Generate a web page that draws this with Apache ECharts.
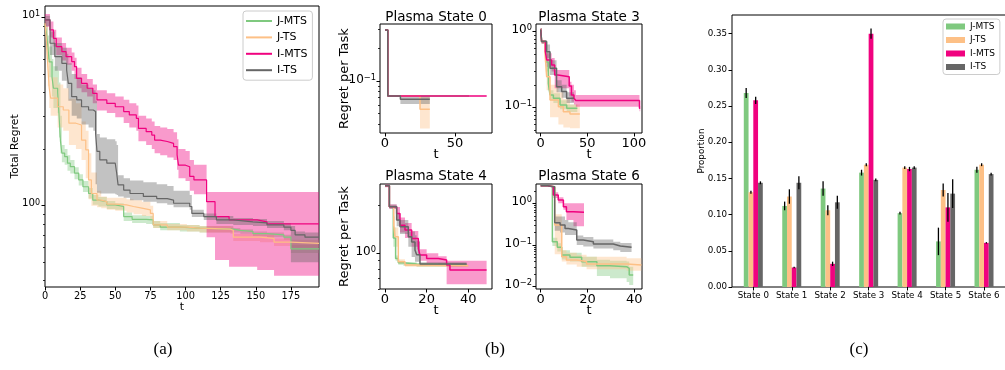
<!DOCTYPE html>
<html><head><meta charset="utf-8">
<script src="https://cdn.jsdelivr.net/npm/echarts@6.0.0/dist/echarts.min.js"></script>
<style>html,body{margin:0;padding:0;background:#fff}#c{width:1005px;height:370px}</style>
</head><body><div id="c"></div>
<script>
const FONT = 'DejaVu Sans';
const names = ['J-MTS', 'J-TS', 'I-MTS', 'I-TS'];
const colors = ['#7fc97f', '#fdc086', '#f0027f', '#666666'];

// ---- (a) Total regret, rows: [t, mean, lower, upper]; last row closes the step ----
const aJMTS = [[0,9.1,8.6,9.5],[1,8.3,7.5,9.0],[2,7.0,6.0,8.0],[3,5.8,4.8,7.0],[5,4.8,3.8,6.0],[6,4.2,3.3,5.5],[9,4.0,3.1,5.2],[10,3.0,2.3,4.5],[11,2.2,1.9,3.0],[12,1.90,1.70,2.10],[14,1.82,1.65,2.00],[16,1.68,1.53,1.85],[18,1.61,1.48,1.75],[21,1.49,1.38,1.60],[24,1.37,1.28,1.47],[27,1.26,1.18,1.35],[31,1.16,1.09,1.24],[34,1.07,1.01,1.14],[38,1.05,0.99,1.11],[44,1.01,0.96,1.06],[50,0.99,0.95,1.03],[56,0.875,0.83,0.92],[62,0.846,0.81,0.89],[72,0.84,0.80,0.88],[77,0.79,0.76,0.83],[82,0.77,0.74,0.81],[96,0.76,0.73,0.79],[110,0.75,0.72,0.78],[134,0.74,0.72,0.76],[139,0.73,0.71,0.75],[148,0.71,0.69,0.73],[158,0.70,0.68,0.72],[170,0.68,0.66,0.70],[175,0.59,0.56,0.62],[195,0.59,0.56,0.62]];
const aJTS = [[0,9.3,8.5,9.8],[1,7.5,6.0,9.0],[2,5.5,4.3,7.5],[3,4.2,3.3,6.0],[4,3.72,3.0,4.8],[9,3.35,2.6,4.4],[13,3.22,2.5,4.2],[17,2.74,2.1,3.7],[22,2.68,2.0,3.5],[26,2.23,1.75,2.8],[29,1.98,1.4,2.5],[31,1.37,1.08,1.9],[33,1.16,1.0,1.5],[37,1.07,0.98,1.2],[40,1.05,0.97,1.12],[44,1.02,0.95,1.10],[50,1.01,0.94,1.10],[58,0.99,0.92,1.08],[63,0.97,0.90,1.07],[69,0.95,0.88,1.05],[75,0.91,0.85,1.0],[77,0.79,0.76,0.83],[87,0.77,0.74,0.80],[101,0.76,0.73,0.79],[110,0.75,0.72,0.78],[132,0.74,0.71,0.77],[134,0.68,0.65,0.71],[153,0.67,0.64,0.70],[163,0.64,0.61,0.67],[175,0.63,0.60,0.66],[195,0.63,0.60,0.66]];
const aIMTS = [[0,9.7,8.9,10.4],[3.5,8.57,7.8,9.5],[6,7.73,7.0,8.6],[8,6.98,6.3,7.8],[12,6.57,5.9,7.3],[15,6.18,5.6,6.9],[19,5.82,5.2,6.5],[21,5.47,4.7,6.1],[22.5,4.74,4.2,5.4],[26,4.46,4.0,5.0],[30,4.20,3.8,4.7],[34,3.95,3.5,4.4],[37,3.64,3.2,4.1],[44,3.49,3.1,3.95],[50,3.35,2.95,3.8],[56,3.16,2.75,3.65],[60,3.03,2.6,3.5],[65,2.91,2.5,3.4],[66.5,2.57,2.2,3.0],[72,2.47,2.1,2.9],[76,2.37,2.0,2.8],[78,2.23,1.9,2.65],[82,2.19,1.85,2.6],[87,2.14,1.8,2.55],[91.5,2.06,1.75,2.45],[94,1.86,1.55,2.25],[95,1.64,1.4,2.0],[100,1.61,1.35,1.95],[103,1.43,1.2,1.75],[106,1.37,1.15,1.65],[115,1.05,0.68,1.18],[121,0.875,0.515,1.18],[131,0.84,0.474,1.18],[151,0.82,0.455,1.18],[158,0.80,0.455,1.18],[163,0.80,0.425,1.18],[195,0.80,0.425,1.18]];
const aITS = [[0,9.7,9.0,10.2],[3.6,7.28,6.3,8.4],[7,6.18,5.2,7.3],[12,5.70,4.6,6.9],[15.4,5.25,4.2,6.4],[16.6,4.46,3.6,5.7],[19,3.79,3.0,5.0],[22.6,3.64,2.9,4.8],[26,3.35,2.7,4.4],[31,3.22,2.6,4.2],[34.4,3.16,2.5,4.1],[36,2.42,1.3,3.6],[37,1.94,1.17,2.4],[39,1.75,1.16,2.3],[44,1.68,1.16,2.25],[50,1.64,1.15,2.2],[51,1.49,1.14,2.1],[52,1.29,1.12,1.45],[56,1.21,1.10,1.40],[60.5,1.16,1.07,1.36],[70,1.12,1.05,1.33],[79.5,1.09,1.03,1.30],[87,1.07,1.01,1.27],[91.5,1.03,0.98,1.20],[103,0.99,0.95,1.14],[104.5,0.91,0.87,0.95],[113,0.875,0.84,0.91],[122,0.84,0.80,0.88],[134,0.82,0.79,0.86],[148,0.81,0.78,0.85],[158,0.79,0.76,0.83],[170,0.77,0.74,0.81],[175,0.74,0.50,0.78],[178,0.70,0.50,0.73],[185,0.68,0.50,0.72],[195,0.68,0.50,0.72]];

// ---- (b) Regret per task, rows: [t, mean, lower, upper] ----
const s0JMTS = [[0,0.296],[2,0.0726],[60,0.0726]];
const s0JTS = [[0,0.296],[2,0.0726],[25,0.0547,0.0364,0.0726],[32,0.0547,0.0364,0.0726]];
const s0IMTS = [[0,0.296],[2,0.0726],[72.6,0.0726]];
const s0ITS = [[0,0.296],[2,0.0726],[11,0.0676,0.0612,0.0726],[32,0.0676,0.0612,0.0726]];

const s3JMTS = [[0,1.07,1.0,1.12],[1,0.74,0.70,0.78],[5.5,0.40,0.30,0.55],[8.2,0.209,0.17,0.26],[10,0.147,0.125,0.17],[13.6,0.133,0.115,0.155],[20.7,0.108,0.095,0.125],[27.9,0.098,0.088,0.11],[39.3,0.098,0.088,0.11]];
const s3JTS = [[0,1.07,1.0,1.12],[1,0.74,0.70,0.78],[4.5,0.55,0.40,0.75],[6.4,0.256,0.17,0.35],[10,0.126,0.075,0.20],[19,0.103,0.06,0.16],[24.3,0.0886,0.055,0.13],[31.4,0.0826,0.0535,0.11],[42,0.0826,0.0535,0.11]];
const s3IMTS = [[0,1.07,1.0,1.12],[1,0.74,0.70,0.78],[5,0.55,0.45,0.70],[6.4,0.424,0.346,0.519],[11.7,0.364,0.30,0.45],[15,0.269,0.18,0.313],[18.6,0.256,0.18,0.313],[30.6,0.193,0.14,0.22],[33,0.147,0.12,0.20],[35.7,0.133,0.11,0.17],[37.7,0.124,0.103,0.147],[106,0.098,0.09,0.105],[106.8,0.098,0.09,0.105]];
const s3ITS = [[0,1.07,1.0,1.12],[1,0.74,0.70,0.78],[6.4,0.545,0.45,0.68],[10,0.33,0.27,0.42],[17,0.189,0.16,0.23],[22.5,0.163,0.135,0.20],[27.8,0.133,0.115,0.16],[35.7,0.133,0.115,0.16]];

const s4JMTS = [[0,2.65],[2.1,1.96],[4,1.25,1.1,1.45],[5.1,0.93,0.9,0.97],[6.4,0.874,0.85,0.9],[8.8,0.857,0.835,0.88],[15.2,0.845,0.825,0.865],[39.2,0.845,0.825,0.865]];
const s4JTS = [[0,2.65],[2.1,1.96],[4.2,1.5,1.3,1.7],[4.8,1.27,1.1,1.45],[6.4,0.887,0.86,0.92],[9.6,0.845,0.825,0.865],[15,0.837,0.82,0.855],[40,0.837,0.82,0.855]];
const s4IMTS = [[0,2.65,2.6,2.7],[2.1,1.96,1.9,2.02],[5.6,1.78,1.6,1.95],[7.2,1.50,1.35,1.68],[9.6,1.40,1.25,1.55],[12.8,1.24,1.1,1.38],[16,1.07,0.97,1.18],[16.8,0.976,0.9,1.06],[20,0.93,0.87,1.0],[25.6,0.908,0.86,0.96],[29.6,0.845,0.64,0.90],[31.2,0.786,0.64,0.90],[48.8,0.786,0.64,0.90]];
const s4ITS = [[0,2.65],[2.1,1.96,1.9,2.02],[5.6,1.62,1.48,1.78],[7.2,1.47,1.32,1.62],[11.2,1.27,1.1,1.37],[12.8,1.18,0.95,1.37],[14.4,1.05,0.887,1.3],[15.2,0.98,0.887,1.2],[16.8,0.857,0.835,0.88],[39.2,0.857,0.835,0.88]];

const s6JMTS = [[0,2.65],[3,2.51],[5,0.12,0.095,0.15],[7.1,0.088,0.07,0.11],[9,0.0575,0.045,0.075],[12.5,0.0506,0.04,0.065],[17.5,0.0398,0.03,0.052],[24,0.0319,0.018,0.044],[29.6,0.0302,0.016,0.042],[36.7,0.0275,0.013,0.04],[37.8,0.019,0.011,0.03],[39.5,0.019,0.011,0.03]];
const s6JTS = [[0,2.65],[3,2.51],[6,0.30,0.06,0.55],[9,0.0525,0.04,0.075],[11,0.0437,0.034,0.065],[15.4,0.040,0.03,0.058],[19.6,0.035,0.026,0.052],[36.7,0.033,0.024,0.048],[43,0.033,0.024,0.048]];
const s6IMTS = [[0,2.65],[3,2.51],[5.4,1.58,1.35,1.85],[7.5,1.2,1.0,1.4],[9.7,0.83,0.7,1.0],[11,0.63,0.40,1.0],[14,0.61,0.28,1.0],[18.5,0.61,0.25,1.0]];
const s6ITS = [[0,2.65],[3,2.51],[6,0.343,0.22,0.48],[8.3,0.30,0.2,0.48],[10.4,0.25,0.174,0.40],[11.8,0.23,0.174,0.35],[15.4,0.132,0.10,0.17],[18.2,0.12,0.092,0.155],[22.5,0.106,0.082,0.135],[31,0.095,0.075,0.12],[34,0.088,0.068,0.112],[38.8,0.088,0.068,0.112]];

const bTitles = ['Plasma State 0', 'Plasma State 3', 'Plasma State 4', 'Plasma State 6'];

// ---- (c) proportions ----
const states = ['State 0', 'State 1', 'State 2', 'State 3', 'State 4', 'State 5', 'State 6'];
const propJMTS = [0.268, 0.112, 0.136, 0.158, 0.102, 0.063, 0.162];
const propJTS  = [0.131, 0.125, 0.106, 0.169, 0.165, 0.134, 0.169];
const propIMTS = [0.258, 0.027, 0.032, 0.350, 0.163, 0.110, 0.061];
const propITS  = [0.144, 0.144, 0.117, 0.148, 0.165, 0.129, 0.156];
const errJMTS = [0.007, 0.006, 0.010, 0.004, 0.002, 0.019, 0.004];
const errJTS  = [0.002, 0.010, 0.007, 0.002, 0.002, 0.009, 0.002];
const errIMTS = [0.005, 0.001, 0.003, 0.007, 0.003, 0.020, 0.001];
const errITS  = [0.002, 0.009, 0.009, 0.002, 0.002, 0.020, 0.002];

// ---- tick values ----
const majorLog = [0.01, 0.1, 1, 10];
const minorLog = [0.02,0.03,0.04,0.05,0.06,0.07,0.08,0.09,0.2,0.3,0.4,0.5,0.6,0.7,0.8,0.9,2,3,4,5,6,7,8,9];
const ticksA = [0, 25, 50, 75, 100, 125, 150, 175];
const ticksB = [[0, 50], [0, 50, 100], [0, 20, 40], [0, 20, 40]];
const ticksCy = [0, 0.05, 0.10, 0.15, 0.20, 0.25, 0.30, 0.35];
const ticksCx = [0, 1, 2, 3, 4, 5, 6];

// ================= layout =================
const BAR_W = 4.75;
const gridDefs = [
  {left: 45, top: 6, width: 274, height: 281},
  {left: 380, top: 24, width: 112, height: 109},
  {left: 536, top: 24, width: 106, height: 109},
  {left: 380, top: 184, width: 112, height: 105},
  {left: 536, top: 184, width: 106, height: 105},
  {left: 732, top: 15, width: 274, height: 272}
];
const grid = gridDefs.map(g => Object.assign({show: true, borderColor: '#000', borderWidth: 1,
  backgroundColor: 'transparent', containLabel: false, outerBoundsMode: 'none'}, g));

function powLabel(v) {
  const e = Math.round(Math.log10(v));
  const s = e < 0 ? '\u2212' + (-e) : String(e);
  return '{b|10}{s|' + s + '}';
}

function xAx(gi, min, max, ticks, fs, margin, name, nameGap, nameFs, fmt) {
  return {
    type: 'value', gridIndex: gi, min: min, max: max, position: 'bottom',
    axisLine: {show: false, onZero: false}, splitLine: {show: false},
    axisTick: {show: true, length: 3.5, lineStyle: {color: '#000', width: 1}, customValues: ticks},
    axisLabel: {show: true, customValues: ticks, fontSize: fs, color: '#000', fontFamily: FONT,
      margin: margin, hideOverlap: false, formatter: fmt || (v => String(v))},
    name: name, nameLocation: 'middle', nameGap: nameGap, nameMoveOverlap: false,
    nameTextStyle: {fontSize: nameFs, color: '#000', fontFamily: FONT}
  };
}

function yLog(gi, min, max, bfs, sfs, spad, lpad, margin, name, nameGap, nameFs) {
  return [{
    type: 'log', logBase: 10, gridIndex: gi, min: min, max: max, position: 'left',
    axisLine: {show: false, onZero: false}, splitLine: {show: false}, minorTick: {show: false},
    axisTick: {show: true, length: 3.5, lineStyle: {color: '#000', width: 1}, customValues: majorLog},
    axisLabel: {show: true, customValues: majorLog, formatter: powLabel, margin: margin,
      hideOverlap: false, padding: [0, 0, lpad, 0], color: '#000',
      rich: {
        b: {fontSize: bfs, lineHeight: bfs, verticalAlign: 'bottom', fontFamily: FONT, color: '#000'},
        s: {fontSize: sfs, lineHeight: sfs, verticalAlign: 'top', padding: [0, 0, spad, 0], fontFamily: FONT, color: '#000'}
      }},
    name: name || '', nameLocation: 'middle', nameGap: nameGap || 0, nameRotate: 90, nameMoveOverlap: false,
    nameTextStyle: {fontSize: nameFs || 12, color: '#000', fontFamily: FONT}
  }, {
    type: 'log', logBase: 10, gridIndex: gi, min: min, max: max, position: 'left',
    axisLine: {show: false, onZero: false}, splitLine: {show: false}, axisLabel: {show: false},
    axisTick: {show: true, length: 2, lineStyle: {color: '#000', width: 0.8}, customValues: minorLog}
  }];
}

const xAxis = [
  xAx(0, 0, 195, ticksA, 9.8, 4, 't', 15, 11),
  xAx(1, -3.57, 76.4, ticksB[0], 13, 4, 't', 15, 13),
  xAx(2, -5.04, 108.7, ticksB[1], 13, 4, 't', 15, 13),
  xAx(3, -2.4, 51.4, ticksB[2], 13, 4, 't', 15, 13),
  xAx(4, -1.99, 43.26, ticksB[3], 13, 4, 't', 15, 13),
  xAx(5, -0.554, 6.572, ticksCx, 8.7, 4, '', 0, 9, v => states[Math.round(v)])
];

const yAxis = [].concat(
  yLog(0, 0.370, 11.48, 10.2, 8, 6, 4, 5, 'Total Regret', 24, 10.8),
  yLog(1, 0.0330, 0.337, 12, 8.3, 5, 3, 4, 'Regret per Task', 28.5, 13),
  yLog(2, 0.0464, 1.262, 12, 8.3, 5, 3, 4),
  yLog(3, 0.598, 2.72, 12, 8.3, 5, 3, 4, 'Regret per Task', 28.5, 13),
  yLog(4, 0.00879, 2.91, 12, 8.3, 5, 3, 4),
  [{
    type: 'value', gridIndex: 5, min: 0, max: 0.3758, position: 'left',
    axisLine: {show: false, onZero: false}, splitLine: {show: false},
    axisTick: {show: true, length: 3.5, lineStyle: {color: '#000', width: 1}, customValues: ticksCy},
    axisLabel: {show: true, customValues: ticksCy, formatter: v => v.toFixed(2), fontSize: 8.7,
      color: '#000', fontFamily: FONT, margin: 5, hideOverlap: false},
    name: 'Proportion', nameLocation: 'middle', nameGap: 26, nameRotate: 90, nameMoveOverlap: false,
    nameTextStyle: {fontSize: 8.7, color: '#000', fontFamily: FONT}
  }]
);

function bandSeries(rows, color, xi, yi) {
  return {
    type: 'custom', xAxisIndex: xi, yAxisIndex: yi, silent: true,
    data: rows.map(r => [r[0], r[1]]),
    encode: {x: 0, y: 1},
    renderItem: function (params, api) {
      if (params.dataIndex !== 0) return null;
      const n = rows.length;
      const lo = r => (r[2] != null ? r[2] : r[1]);
      const hi = r => (r[3] != null ? r[3] : r[1]);
      const pts = [];
      for (let i = 0; i < n - 1; i++) {
        pts.push(api.coord([rows[i][0], hi(rows[i])]));
        pts.push(api.coord([rows[i + 1][0], hi(rows[i])]));
      }
      for (let i = n - 2; i >= 0; i--) {
        pts.push(api.coord([rows[i + 1][0], lo(rows[i])]));
        pts.push(api.coord([rows[i][0], lo(rows[i])]));
      }
      return {type: 'polygon', shape: {points: pts}, style: {fill: color, opacity: 0.4}};
    }
  };
}

function lineSeries(rows, k, xi, yi, w) {
  return {
    type: 'line', name: names[k], xAxisIndex: xi, yAxisIndex: yi, step: 'end',
    showSymbol: false, symbol: 'none', silent: true,
    data: rows.map(r => [r[0], r[1]]),
    lineStyle: {color: colors[k], width: w}, itemStyle: {color: colors[k]}
  };
}

const series = [];
const panelRows = [
  [aJMTS, aJTS, aIMTS, aITS],
  [s0JMTS, s0JTS, s0IMTS, s0ITS],
  [s3JMTS, s3JTS, s3IMTS, s3ITS],
  [s4JMTS, s4JTS, s4IMTS, s4ITS],
  [s6JMTS, s6JTS, s6IMTS, s6ITS]
];
panelRows.forEach((set, p) => {
  set.forEach((rows, k) => {
    series.push(bandSeries(rows, colors[k], p, p * 2));
    series.push(lineSeries(rows, k, p, p * 2, p === 0 ? 1.2 : 1.5));
  });
});

const props = [propJMTS, propJTS, propIMTS, propITS];
const errs = [errJMTS, errJTS, errIMTS, errITS];
props.forEach((vals, k) => {
  series.push({
    type: 'bar', name: names[k], xAxisIndex: 5, yAxisIndex: 10, barWidth: BAR_W, barGap: '0%',
    silent: true, data: vals.map((v, i) => [i, v]), itemStyle: {color: colors[k]}
  });
});
props.forEach((vals, k) => {
  series.push({
    type: 'custom', xAxisIndex: 5, yAxisIndex: 10, silent: true, z: 5,
    data: vals.map((v, i) => [i, v, errs[k][i]]),
    encode: {x: 0, y: 1},
    renderItem: function (params, api) {
      const x = api.value(0), v = api.value(1), e = api.value(2);
      const top = api.coord([x, v + e]);
      const bot = api.coord([x, v - e]);
      const cx = top[0] + (k - 1.5) * BAR_W;
      return {type: 'line', shape: {x1: cx, y1: top[1], x2: cx, y2: bot[1]},
        style: {stroke: '#000', lineWidth: 1.3}};
    }
  });
});

const legendData = names.map((n, i) => ({name: n, itemStyle: {color: colors[i]}}));
const legend = [
  {data: legendData, orient: 'vertical', left: 243, top: 11, icon: 'rect', itemWidth: 26, itemHeight: 2,
   itemGap: 2.4, padding: [3, 5, 3, 3], selectedMode: false,
   textStyle: {fontSize: 11, lineHeight: 14, color: '#000', fontFamily: FONT},
   backgroundColor: 'rgba(255,255,255,0.8)', borderColor: '#cccccc', borderWidth: 1, borderRadius: 3},
  {data: legendData, orient: 'vertical', left: 943, top: 19, icon: 'rect', itemWidth: 19, itemHeight: 6,
   itemGap: 2.5, padding: [2, 5, 2, 3], selectedMode: false,
   textStyle: {fontSize: 9, lineHeight: 11, color: '#000', fontFamily: FONT},
   backgroundColor: 'rgba(255,255,255,0.8)', borderColor: '#cccccc', borderWidth: 1, borderRadius: 3}
];

const titlePos = [[436, 17.3], [589, 17.3], [436, 176.5], [589, 176.5]];
const graphic = bTitles.map((t, i) => ({
  type: 'text', x: titlePos[i][0], y: titlePos[i][1], silent: true,
  style: {text: t, fontSize: 13.5, fontFamily: FONT, fill: '#000', align: 'center', verticalAlign: 'middle'}
})).concat([['(a)', 163], ['(b)', 495], ['(c)', 859]].map(c => ({
  type: 'text', x: c[1], y: 350, silent: true,
  style: {text: c[0], fontSize: 17, fontFamily: 'Liberation Serif', fill: '#000', align: 'center', verticalAlign: 'middle'}
})));

const chart = echarts.init(document.getElementById('c'), null, {renderer: 'canvas'});
chart.setOption({
  animation: false,
  backgroundColor: '#fff',
  textStyle: {fontFamily: FONT},
  grid: grid, xAxis: xAxis, yAxis: yAxis, legend: legend, series: series, graphic: graphic
});
</script></body></html>
